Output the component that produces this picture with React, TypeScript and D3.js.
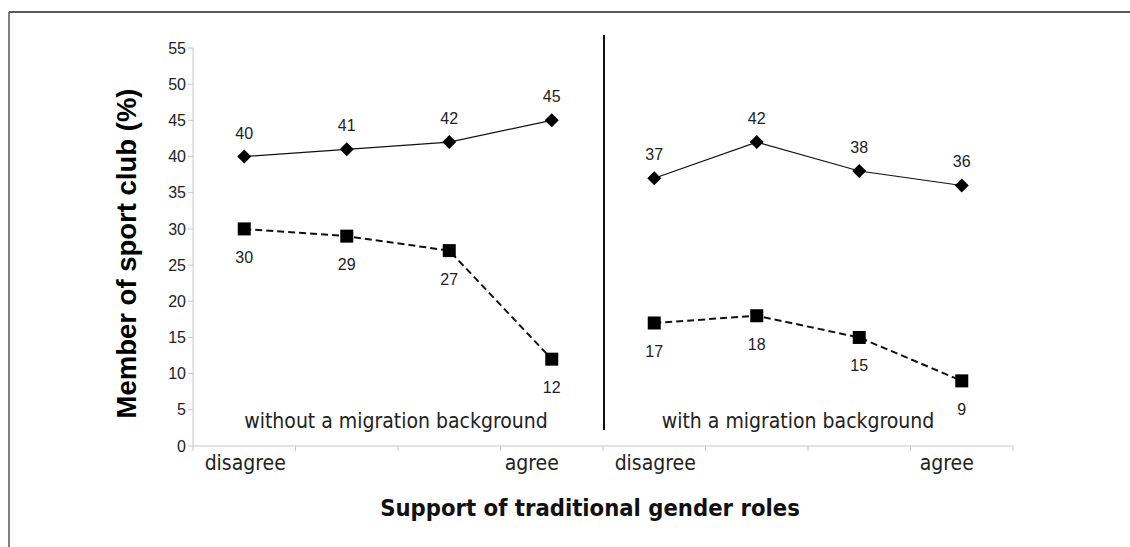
import React from "react";
import * as d3 from "d3";

const groups = ["without a migration background", "with a migration background"];
const levels = ["disagree", "", "", "agree"];
const yTicks = [0, 5, 10, 15, 20, 25, 30, 35, 40, 45, 50, 55];
// solid line, diamond markers
const solidWithout = [40, 41, 42, 45];
const solidWith = [37, 42, 38, 36];
// dashed line, square markers
const dashedWithout = [30, 29, 27, 12];
const dashedWith = [17, 18, 15, 9];

const W = 1130;
const H = 547;

export default function App() {
  const slots = groups.flatMap((g, gi) => levels.map((_, li) => `${gi}-${li}`));
  const x = d3.scaleBand<string>().domain(slots).range([193, 1013]).padding(0);
  const y = d3.scaleLinear().domain([0, 55]).range([446, 48]);
  const cx = (gi: number, li: number) => (x(`${gi}-${li}`) as number) + x.bandwidth() / 2;

  const line = d3
    .line<[number, number]>()
    .x((d) => d[0])
    .y((d) => d[1]);

  const solidSets = [solidWithout, solidWith];
  const dashedSets = [dashedWithout, dashedWith];

  const numFont = "'Liberation Sans', Arial, sans-serif";
  const condFont = "'DejaVu Sans Condensed', 'DejaVu Sans', sans-serif";

  const boundaries = [...slots.map((s) => x(s) as number), 1013];
  const sepX = (x(`1-0`) as number) + 1;

  return (
    <svg
      width={W}
      height={H}
      style={{ position: "absolute", left: 0, top: 0, background: "#fff" }}
    >
      {/* frame */}
      <line x1={9} y1={12} x2={W} y2={12} stroke="#222" strokeWidth={1.5} />
      <line x1={9} y1={12} x2={9} y2={H} stroke="#555" strokeWidth={1.5} />

      {/* y axis */}
      <line x1={193} y1={y(55)} x2={193} y2={y(0)} stroke="#c8c8c8" strokeWidth={1} />
      {yTicks.map((t) => (
        <g key={t}>
          <line x1={188} x2={193} y1={y(t)} y2={y(t)} stroke="#c8c8c8" />
          <text
            x={186}
            y={y(t)}
            dy="0.35em"
            textAnchor="end"
            fontFamily={numFont}
            fontSize={16}
            fill="#222"
          >
            {t}
          </text>
        </g>
      ))}

      {/* x axis */}
      <line x1={193} y1={y(0)} x2={1013} y2={y(0)} stroke="#c8c8c8" />
      {boundaries.map((b, i) => (
        <line key={i} x1={b} x2={b} y1={y(0)} y2={y(0) + 5} stroke="#c8c8c8" />
      ))}
      {groups.map((g, gi) =>
        levels.map((l, li) =>
          l ? (
            <text
              key={`${gi}-${li}`}
              x={cx(gi, li) + (li === 0 ? 1 : gi === 0 ? -20 : -15)}
              y={470}
              textAnchor="middle"
              fontFamily={condFont}
              fontStretch="condensed"
              fontSize={21}
              fill="#222"
            >
              {l}
            </text>
          ) : null
        )
      )}

      {/* separator */}
      <line x1={sepX} x2={sepX} y1={35} y2={430} stroke="#111" strokeWidth={2} />

      {/* group labels */}
      {groups.map((g, gi) => (
        <text
          key={g}
          x={(cx(gi, 0) + cx(gi, 3)) / 2 - (gi === 0 ? 2 : 10)}
          y={428}
          textAnchor="middle"
          fontFamily={condFont}
          fontStretch="condensed"
          fontSize={21}
          fill="#222"
        >
          {g}
        </text>
      ))}

      {/* solid series */}
      {solidSets.map((vals, gi) => {
        const pts = vals.map((v, li) => [cx(gi, li), y(v)] as [number, number]);
        return (
          <g key={`s${gi}`}>
            <path d={line(pts) || ""} fill="none" stroke="#111" strokeWidth={1.2} />
            {pts.map((p, i) => (
              <g key={i}>
                <path
                  d={`M${p[0]},${p[1] - 7}L${p[0] + 7},${p[1]}L${p[0]},${p[1] + 7}L${p[0] - 7},${p[1]}Z`}
                  fill="#000"
                />
                <text
                  x={p[0]}
                  y={p[1] - 18}
                  textAnchor="middle"
                  fontFamily={numFont}
                  fontSize={16}
                  fill="#222"
                >
                  {vals[i]}
                </text>
              </g>
            ))}
          </g>
        );
      })}

      {/* dashed series */}
      {dashedSets.map((vals, gi) => {
        const pts = vals.map((v, li) => [cx(gi, li), y(v)] as [number, number]);
        return (
          <g key={`d${gi}`}>
            <path
              d={line(pts) || ""}
              fill="none"
              stroke="#111"
              strokeWidth={2}
              strokeDasharray="7,4"
            />
            {pts.map((p, i) => (
              <g key={i}>
                <rect x={p[0] - 6.5} y={p[1] - 6.5} width={13} height={13} fill="#000" />
                <text
                  x={p[0]}
                  y={p[1] + 34}
                  textAnchor="middle"
                  fontFamily={numFont}
                  fontSize={16}
                  fill="#222"
                >
                  {vals[i]}
                </text>
              </g>
            ))}
          </g>
        );
      })}

      {/* axis titles */}
      <text
        transform={`translate(136,${(87 + 420) / 2}) rotate(-90)`}
        textAnchor="middle"
        fontFamily={numFont}
        fontWeight="bold"
        fontSize={27.5}
        fill="#000"
      >
        Member of sport club (%)
      </text>
      <text
        x={590}
        y={516}
        textAnchor="middle"
        fontFamily={condFont}
        fontStretch="condensed"
        fontWeight="bold"
        fontSize={23.6}
        fill="#111"
      >
        Support of traditional gender roles
      </text>
    </svg>
  );
}
